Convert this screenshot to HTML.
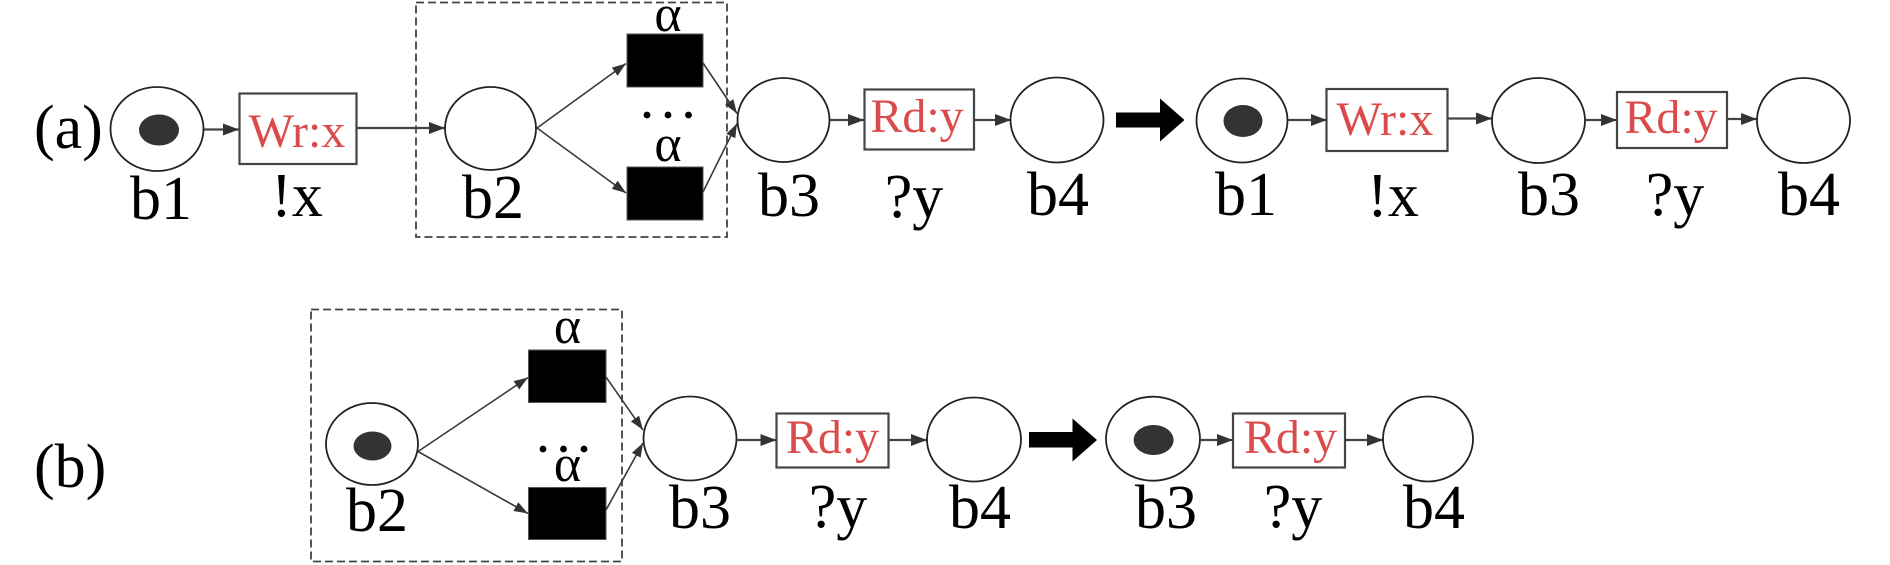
<!DOCTYPE html>
<html>
<head>
<meta charset="utf-8">
<style>
  html, body { margin: 0; padding: 0; background: #ffffff; }
  svg { display: block; }
  .lbl { font-family: "Liberation Serif", "DejaVu Serif", serif; font-size: 62px; fill: #000; }
  .red { font-family: "Liberation Serif", "DejaVu Serif", serif; font-size: 48px; fill: #dc4b4b; }
  .alpha { font-family: "Liberation Serif", "DejaVu Serif", serif; font-size: 52px; fill: #000; }
  .place { fill: #fff; stroke: #222; stroke-width: 1.8; }
  .tok { fill: #333; }
  .trans { fill: #fff; stroke: #444; stroke-width: 2.2; }
  .blk { fill: #000; stroke: #555; stroke-width: 1; }
  .conn { stroke: #444; stroke-width: 2.2; fill: none; }
  .diag { stroke: #3a3a3a; stroke-width: 1.6; fill: none; }
  .dash { fill: none; stroke: #444; stroke-width: 1.8; stroke-dasharray: 8 4; }
</style>
</head>
<body>
<svg width="1890" height="565" viewBox="0 0 1890 565" xmlns="http://www.w3.org/2000/svg">
  <defs>
    <marker id="ah" markerUnits="userSpaceOnUse" markerWidth="16" markerHeight="12" refX="16" refY="6" orient="auto">
      <path d="M0,0 L16,6 L0,12 z" fill="#333"/>
    </marker>
    <marker id="ahs" markerUnits="userSpaceOnUse" markerWidth="14" markerHeight="10" refX="14" refY="5" orient="auto">
      <path d="M0,0 L14,5 L0,10 z" fill="#333"/>
    </marker>
  </defs>

  <!-- ===================== ROW (a) ===================== -->
  <text class="lbl" x="34" y="148">(a)</text>

  <ellipse class="place" cx="157" cy="129" rx="46.5" ry="42"/>
  <ellipse class="tok" cx="159" cy="130" rx="20" ry="15.5"/>
  <text class="lbl" x="161" y="219" text-anchor="middle">b1</text>

  <line class="conn" x1="204" y1="129.5" x2="239" y2="129.5" marker-end="url(#ah)"/>

  <rect class="trans" x="239.5" y="93.5" width="117" height="70.5"/>
  <text class="red" x="297" y="147" text-anchor="middle">Wr:x</text>
  <text class="lbl" x="297" y="216" text-anchor="middle">!x</text>

  <line class="conn" x1="357" y1="128" x2="445" y2="128" marker-end="url(#ah)"/>

  <rect class="dash" x="416" y="2.5" width="311" height="234.5"/>

  <ellipse class="place" cx="490.5" cy="128.5" rx="45.5" ry="41.5"/>
  <text class="lbl" x="493" y="218" text-anchor="middle">b2</text>

  <rect class="blk" x="627" y="34" width="76" height="53"/>
  <rect class="blk" x="627" y="167" width="76" height="53"/>
  <text class="alpha" x="668" y="31" text-anchor="middle">α</text>
  <circle cx="647" cy="115" r="3.4" fill="#000"/>
  <circle cx="668" cy="115" r="3.4" fill="#000"/>
  <circle cx="688.5" cy="115" r="3.4" fill="#000"/>
  <text class="alpha" x="668" y="161" text-anchor="middle">α</text>

  <line class="diag" x1="537" y1="128" x2="626" y2="63.5" marker-end="url(#ahs)"/>
  <line class="diag" x1="537" y1="128" x2="626" y2="193" marker-end="url(#ahs)"/>
  <line class="diag" x1="703" y1="63" x2="737" y2="113.5" marker-end="url(#ahs)"/>
  <line class="diag" x1="703" y1="192" x2="737" y2="123.5" marker-end="url(#ahs)"/>

  <ellipse class="place" cx="783.5" cy="120" rx="46" ry="42"/>
  <text class="lbl" x="789" y="216" text-anchor="middle">b3</text>

  <line class="conn" x1="830" y1="120" x2="864" y2="120" marker-end="url(#ah)"/>

  <rect class="trans" x="864.5" y="89.5" width="109.5" height="60"/>
  <text class="red" x="917" y="132" text-anchor="middle">Rd:y</text>
  <text class="lbl" x="914" y="217" text-anchor="middle">?y</text>

  <line class="conn" x1="974" y1="120" x2="1011" y2="120" marker-end="url(#ah)"/>

  <ellipse class="place" cx="1057" cy="120" rx="46.5" ry="42.5"/>
  <text class="lbl" x="1058" y="215" text-anchor="middle">b4</text>

  <path d="M1116,112.5 L1160,112.5 L1160,98.5 L1184.5,120 L1160,141.5 L1160,127.5 L1116,127.5 z" fill="#000"/>

  <ellipse class="place" cx="1242" cy="120.5" rx="45.5" ry="42"/>
  <ellipse class="tok" cx="1243" cy="121" rx="19.5" ry="16"/>
  <text class="lbl" x="1246" y="215" text-anchor="middle">b1</text>

  <line class="conn" x1="1288" y1="120" x2="1327" y2="120" marker-end="url(#ah)"/>

  <rect class="trans" x="1326.5" y="89" width="121" height="62"/>
  <text class="red" x="1385" y="135" text-anchor="middle">Wr:x</text>
  <text class="lbl" x="1393" y="216" text-anchor="middle">!x</text>

  <line class="conn" x1="1448" y1="118.5" x2="1492" y2="118.5" marker-end="url(#ah)"/>

  <ellipse class="place" cx="1538.5" cy="120.5" rx="46.5" ry="42.5"/>
  <text class="lbl" x="1549" y="215" text-anchor="middle">b3</text>

  <line class="conn" x1="1585" y1="120" x2="1617" y2="120" marker-end="url(#ah)"/>

  <rect class="trans" x="1617" y="92" width="110" height="56"/>
  <text class="red" x="1671" y="133" text-anchor="middle">Rd:y</text>
  <text class="lbl" x="1675" y="215" text-anchor="middle">?y</text>

  <line class="conn" x1="1727" y1="119" x2="1757" y2="119" marker-end="url(#ah)"/>

  <ellipse class="place" cx="1803.5" cy="120.5" rx="46.5" ry="42.5"/>
  <text class="lbl" x="1809" y="215" text-anchor="middle">b4</text>

  <!-- ===================== ROW (b) ===================== -->
  <text class="lbl" x="34" y="487">(b)</text>

  <rect class="dash" x="311" y="309.5" width="311" height="252"/>

  <ellipse class="place" cx="372" cy="444" rx="46" ry="41"/>
  <ellipse class="tok" cx="372.5" cy="446" rx="19" ry="14.5"/>
  <text class="lbl" x="377" y="531" text-anchor="middle">b2</text>

  <rect class="blk" x="528.5" y="350" width="77.5" height="52.5"/>
  <rect class="blk" x="528.5" y="487.5" width="77.5" height="52"/>
  <text class="alpha" x="567.5" y="343" text-anchor="middle">α</text>
  <circle cx="543" cy="449" r="3.4" fill="#000"/>
  <circle cx="563.5" cy="449" r="3.4" fill="#000"/>
  <circle cx="584" cy="449" r="3.4" fill="#000"/>
  <text class="alpha" x="567.5" y="481" text-anchor="middle">α</text>

  <line class="diag" x1="418" y1="451.5" x2="528" y2="377.5" marker-end="url(#ahs)"/>
  <line class="diag" x1="418" y1="451.5" x2="528" y2="513.5" marker-end="url(#ahs)"/>
  <line class="diag" x1="606" y1="377" x2="643" y2="430" marker-end="url(#ahs)"/>
  <line class="diag" x1="606" y1="510" x2="643" y2="443" marker-end="url(#ahs)"/>

  <ellipse class="place" cx="690" cy="438.5" rx="46.5" ry="42"/>
  <text class="lbl" x="700" y="528" text-anchor="middle">b3</text>

  <line class="conn" x1="736.5" y1="440" x2="776.5" y2="440" marker-end="url(#ah)"/>

  <rect class="trans" x="776.5" y="413.5" width="112" height="54"/>
  <text class="red" x="832.5" y="453" text-anchor="middle">Rd:y</text>
  <text class="lbl" x="838" y="527" text-anchor="middle">?y</text>

  <line class="conn" x1="889" y1="440" x2="927" y2="440" marker-end="url(#ah)"/>

  <ellipse class="place" cx="974" cy="439.5" rx="47" ry="42"/>
  <text class="lbl" x="980" y="528" text-anchor="middle">b4</text>

  <path d="M1029,432 L1072.5,432 L1072.5,418.5 L1097,440 L1072.5,461.5 L1072.5,447.5 L1029,447.5 z" fill="#000"/>

  <ellipse class="place" cx="1153" cy="438.7" rx="47" ry="42"/>
  <ellipse class="tok" cx="1153.6" cy="440" rx="20" ry="15"/>
  <text class="lbl" x="1166" y="528" text-anchor="middle">b3</text>

  <line class="conn" x1="1200" y1="440" x2="1233" y2="440" marker-end="url(#ah)"/>

  <rect class="trans" x="1233" y="413.5" width="112" height="54"/>
  <text class="red" x="1290.5" y="453" text-anchor="middle">Rd:y</text>
  <text class="lbl" x="1293" y="527" text-anchor="middle">?y</text>

  <line class="conn" x1="1345" y1="440" x2="1383" y2="440" marker-end="url(#ah)"/>

  <ellipse class="place" cx="1428" cy="439" rx="45" ry="42.5"/>
  <text class="lbl" x="1434" y="528" text-anchor="middle">b4</text>
</svg>
</body>
</html>
